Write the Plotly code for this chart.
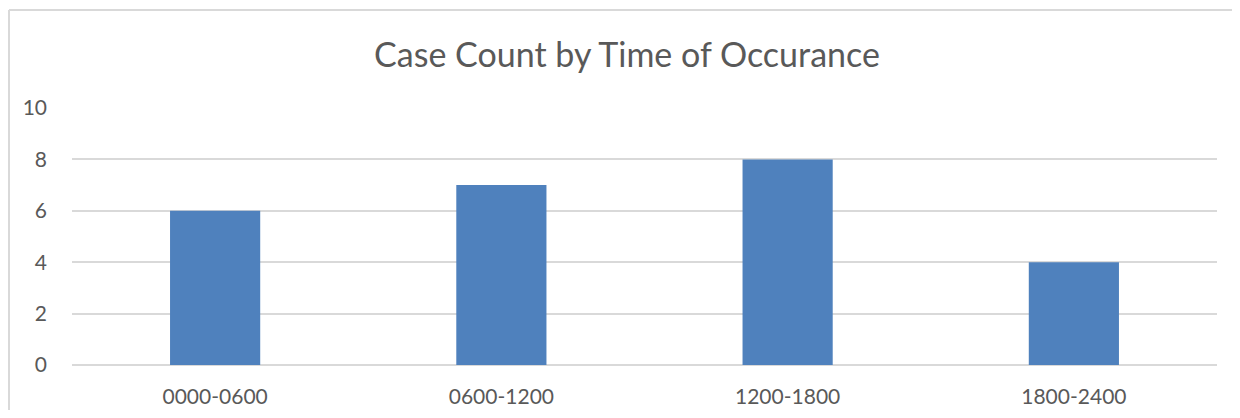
import plotly.graph_objects as go

categories = ["0000-0600", "0600-1200", "1200-1800", "1800-2400"]
case_counts = [6, 7, 8, 4]
y_ticks = [0, 2, 4, 6, 8, 10]
title_text = "Case Count by Time of Occurance"

fig = go.Figure()
fig.add_trace(go.Bar(
    x=categories,
    y=case_counts,
    marker=dict(color="#4F81BD", line=dict(width=0)),
    hoverinfo="x+y",
))

# page has an 8px body margin, so the figure is laid out in page coords minus 8
OFF = 8
W, H = 1224, 402
ml = 72 - OFF
plot_right = 1217 - OFF
mr = W - plot_right
mt = 108 - OFF
mb = H - (365 - OFF)
pw = W - ml - mr
ph = H - mt - mb

border = dict(color="#D9D9D9", width=2)

fig.update_layout(
    width=W, height=H,
    margin=dict(l=ml, r=mr, t=mt, b=mb, autoexpand=False),
    paper_bgcolor="white",
    plot_bgcolor="white",
    bargap=0.685,
    showlegend=False,
    font=dict(family="Lato, 'Open Sans', sans-serif", color="#595959"),
    title=dict(
        text=title_text,
        xref="container",
        x=(627 - OFF) / W, xanchor="center",
        y=1 - (55 - OFF) / H, yanchor="middle",
        font=dict(size=34, color="#595959", family="Lato, 'Open Sans', sans-serif"),
    ),
    xaxis=dict(
        showgrid=False,
        showline=False,
        ticks="",
        automargin=False,
        tickfont=dict(size=21, color="#595959"),
        ticklabelstandoff=17,
    ),
    yaxis=dict(
        range=[0, 10],
        tickvals=y_ticks,
        showgrid=True,
        gridcolor="#D9D9D9",
        gridwidth=1.5,
        zeroline=True,
        zerolinecolor="#D9D9D9",
        zerolinewidth=1.5,
        showline=False,
        ticks="",
        automargin=False,
        tickfont=dict(size=21, color="#595959"),
        ticklabelstandoff=24,
    ),
    shapes=[
        # top border
        dict(
            type="line", xref="paper", yref="paper",
            x0=(1 - ml) / pw, x1=(W - ml) / pw,
            y0=((H - mb) - 2) / ph, y1=((H - mb) - 2) / ph,
            line=border, layer="below",
        ),
        # left border
        dict(
            type="line", xref="paper", yref="paper",
            x0=(1 - ml) / pw, x1=(1 - ml) / pw,
            y0=-mb / ph, y1=((H - mb) - 2) / ph,
            line=border, layer="below",
        ),
    ],
)

fig.write_html("out.html")
